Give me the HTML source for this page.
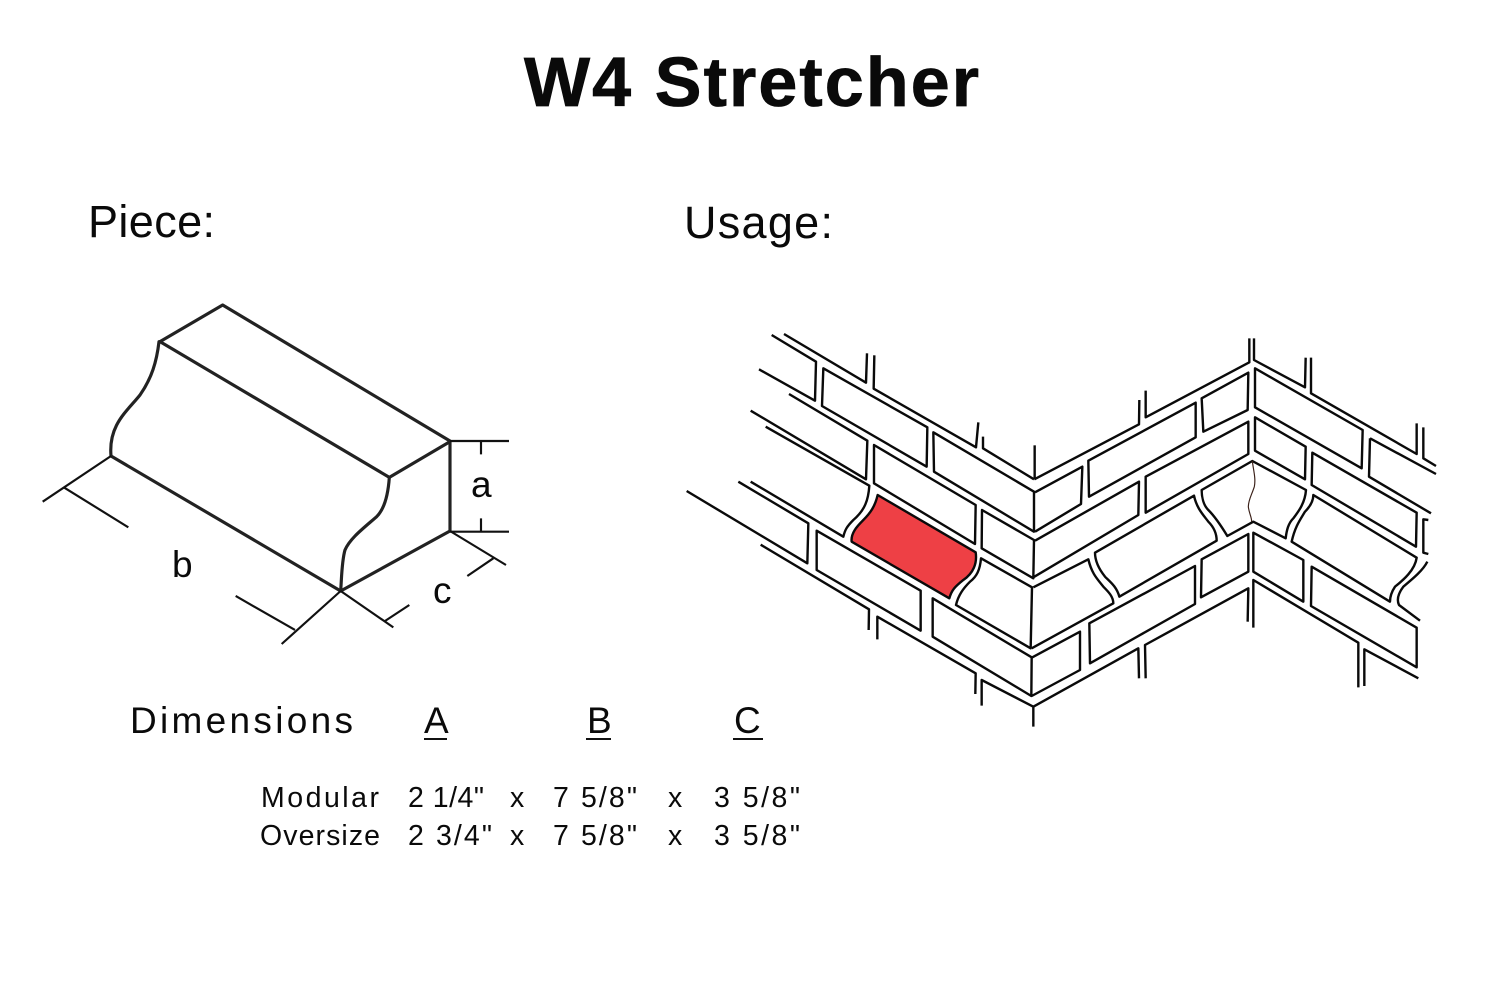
<!DOCTYPE html>
<html><head><meta charset="utf-8"><title>W4 Stretcher</title>
<style>
html,body{margin:0;padding:0;background:#fff}
svg{display:block}
text{font-family:"Liberation Sans",Arial,sans-serif;fill:#0a0a0a}
</style></head><body>
<svg width="1500" height="1001" viewBox="0 0 1500 1001" xmlns="http://www.w3.org/2000/svg">
<rect width="1500" height="1001" fill="#fff"/>
<text x="524" y="106" font-size="70" font-weight="700" textLength="455" stroke="#0a0a0a" stroke-width=".8">W4 Stretcher</text>
<text x="88" y="237" font-size="45" textLength="127">Piece:</text>
<text x="684" y="238" font-size="45" textLength="149">Usage:</text>
<text x="130" y="733" font-size="37" textLength="223">Dimensions</text>
<text x="424" y="733" font-size="37" textLength="22">A</text>
<text x="587" y="733" font-size="37" textLength="23">B</text>
<text x="734" y="733" font-size="37" textLength="28">C</text>
<rect x="424" y="738" width="23" height="2" fill="#111"/>
<rect x="586" y="738" width="25" height="2" fill="#111"/>
<rect x="733" y="738" width="30" height="2" fill="#111"/>
<g font-size="28.5">
<text x="261" y="807" textLength="118">Modular</text>
<text x="408" y="807" textLength="76">2 1/4"</text>
<text x="510" y="807" textLength="14">x</text>
<text x="553" y="807" textLength="84">7 5/8"</text>
<text x="668" y="807" textLength="14">x</text>
<text x="714" y="807" textLength="86">3 5/8"</text>
<text x="260" y="845" textLength="120">Oversize</text>
<text x="408" y="845" textLength="84">2 3/4"</text>
<text x="510" y="845" textLength="14">x</text>
<text x="553" y="845" textLength="84">7 5/8"</text>
<text x="668" y="845" textLength="14">x</text>
<text x="714" y="845" textLength="86">3 5/8"</text>
</g>

<!-- Piece -->
<g transform="translate(30,295) scale(.33333)" fill="none" stroke="#222" stroke-linejoin="round" stroke-linecap="round">
<g stroke-width="9.5">
<path d="M390 140L578 30L1260 438V708L932 888L243 483"/>
<path d="M390 140L1078 547L1260 440"/>
<path d="M387 140C380 200 365 250 330 300C290 350 235 390 243 483"/>
<path d="M1078 547C1075 590 1065 640 1040 665C1000 700 960 730 945 765C935 800 935 850 932 888"/>
</g>
<g stroke-width="6.5" stroke="#111" stroke-linecap="butt">
<path d="M1260 438H1437M1260 710H1437M1353 438V478M1353 670V710"/>
<path d="M243 483L38 620M103 578L295 697"/>
<path d="M932 888L755 1047M795 1005L617 903"/>
<path d="M932 888L1090 997M1065 978L1138 930"/>
<path d="M1260 708L1428 810M1390 790L1312 843"/>
</g>
</g>
<text x="471" y="497" font-size="37">a</text>
<text x="172" y="577" font-size="37">b</text>
<text x="433" y="603" font-size="37">c</text>

<!-- Usage left wing -->
<g transform="translate(680,320) scale(.33333)" fill="none" stroke="#0a0a0a" stroke-width="7.2" stroke-linejoin="round" stroke-linecap="butt">
<path d="M312 42L558 188L561 100"/>
<path d="M583 106L581 206L888 382L895 307"/>
<path d="M909 350V385L1062 478"/>
<path d="M1064 376V478"/>
<path d="M275 45L408 125L405 242L237 148"/>
<path d="M430 145L742 322L740 440L426 258Z"/>
<path d="M760 337L1062 515V635L762 455Z"/>
<path d="M327 222L562 362L558 478L212 272"/>
<path d="M257 320L568 497C565 540 555 570 520 600C500 620 495 630 490 650L212 485"/>
<path d="M175 485L385 610L382 730L20 513"/>
<path d="M582 375L887 555L885 672L582 490Z"/>
<path d="M906 570L1062 660L1060 775L905 685Z"/>
<path d="M593 525L887 697C892 730 880 760 850 780C825 800 815 810 808 835L515 665C512 640 530 620 550 600C570 580 585 560 593 525Z" fill="#ee4045"/>
<path d="M903 715L1056 802L1052 985L828 855C835 825 850 805 870 785C890 770 900 750 903 715Z"/>
<path d="M410 632L722 812V932L410 750Z"/>
<path d="M242 674L567 868L566 930"/>
<path d="M592 958V890L887 1060L886 1122"/>
<path d="M905 1157V1080L1060 1160V1220"/>
<path d="M758 835L1055 1012L1054 1128L758 950Z"/>
</g>

<!-- Usage right wing -->
<g transform="translate(1020,330) scale(.33333)" fill="none" stroke="#0a0a0a" stroke-width="7.2" stroke-linejoin="round" stroke-linecap="butt">
<path d="M43 448L357 283L358 210"/>
<path d="M377 182V262L688 97V25"/>
<path d="M702 25V90L855 172L857 83"/>
<path d="M873 83V190L1190 372V280"/>
<path d="M1210 292V385L1248 408"/>
<path d="M1050 325L1248 432"/>
<path d="M1050 325L1047 440L1233 550"/>
<path d="M45 487L187 410L183 522L45 605"/>
<path d="M205 392L527 218V322L207 500Z"/>
<path d="M545 205L685 128L683 240L550 305Z"/>
<path d="M45 632L357 455L355 555L40 742"/>
<path d="M377 440L685 275V372L377 548Z"/>
<path d="M705 115L1028 300L1025 415L705 232Z"/>
<path d="M705 262L857 350L855 448L705 362Z"/>
<path d="M877 368L1190 548L1188 650L875 465Z"/>
<path d="M1225 570L1210 568V668L1225 672"/>
<path d="M40 772L205 688C215 730 230 745 250 770C265 785 280 800 280 820L35 955"/>
<path d="M225 668L522 497C530 535 550 555 565 575C580 590 590 610 590 632L298 800C290 770 270 755 255 740C235 715 225 690 225 668Z"/>
<path d="M545 480L697 393L858 480C855 520 835 545 820 565C805 580 800 600 797 625L700 575L622 618C605 590 585 560 565 540C550 525 545 500 545 480Z"/>
<path d="M697 393C700 420 708 445 703 470C695 495 685 510 685 530C687 550 695 560 695 575" stroke="#3a2018" stroke-width="3.5"/>
<path d="M880 495L1190 683C1185 720 1150 750 1125 770C1115 785 1110 800 1110 815L815 635C825 590 840 570 855 545C870 530 880 515 880 495Z"/>
<path d="M1222 695C1210 720 1180 745 1150 770C1135 790 1130 810 1137 825L1200 872"/>
<path d="M545 688L685 612V725L543 802Z"/>
<path d="M208 880L525 708V822L210 1000Z"/>
<path d="M35 983L180 905V1020L35 1098"/>
<path d="M40 1130L355 955L357 1045"/>
<path d="M377 1045L375 945L685 775L683 875"/>
<path d="M700 893V750L1015 938V1072"/>
<path d="M1033 1068V958L1195 1045"/>
<path d="M700 608L850 690V815L700 725Z"/>
<path d="M875 710L1190 893V1012L873 828Z"/>
</g>
</svg>
</body></html>
